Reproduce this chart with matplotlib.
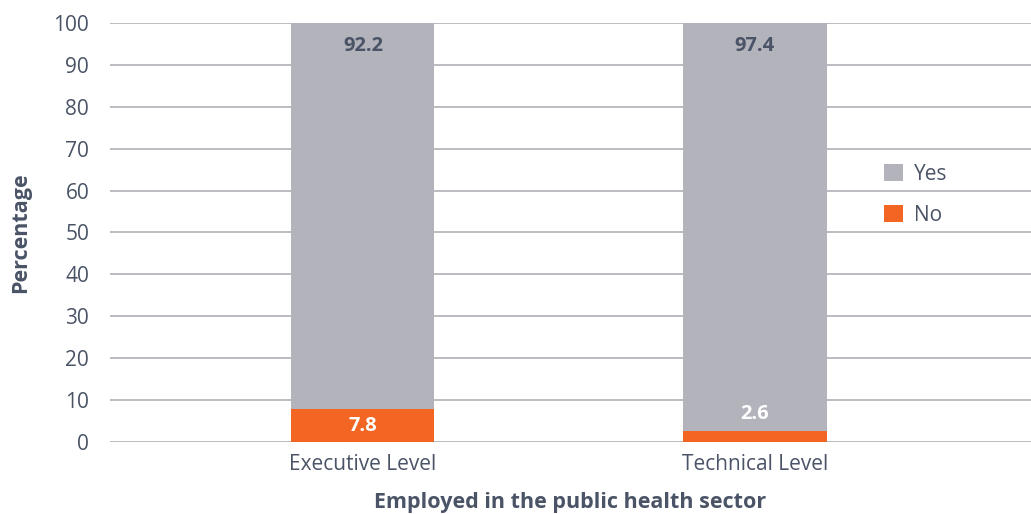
import matplotlib.pyplot as plt
import numpy as np

# data
categories = ['Executive Level', 'Technical Level']
yes_vals = [92.2, 97.4]
no_vals = [7.8, 2.6]

gray = '#b3b3bc'
orange = '#f26522'
text_col = '#4a5466'
grid_col = '#b5b5bd'

plt.rcParams['font.family'] = ['Open Sans', 'DejaVu Sans']

fig = plt.figure(figsize=(10.31, 5.14), dpi=100)
ax = fig.add_axes([110 / 1031, 1 - 442 / 514, 921 / 1031, 419 / 514])

x = np.arange(len(categories))
w = 0.365
ax.bar(x, no_vals, w, color=orange, label='No', zorder=3)
ax.bar(x, yes_vals, w, bottom=no_vals, color=gray, label='Yes', zorder=3)

# value labels
for i in range(len(categories)):
    ax.text(x[i], 100 - 5.6, f'{yes_vals[i]}', ha='center', va='center',
            fontsize=14.5, fontweight='bold', color=text_col, zorder=4)
    if no_vals[i] > 5:
        ny = no_vals[i] / 2
    else:
        ny = no_vals[i] + 4
    ax.text(x[i], ny, f'{no_vals[i]}', ha='center', va='center',
            fontsize=14.5, fontweight='bold', color='white', zorder=4)

ax.set_xlim(-0.645, 1.704)
ax.set_ylim(0, 100)
ax.set_yticks(np.arange(0, 101, 10))
ax.set_xticks(x)
ax.set_xticklabels(categories)
ax.yaxis.grid(True, color=grid_col, linewidth=1.3, zorder=0)
ax.set_axisbelow(True)
for s in ax.spines.values():
    s.set_visible(False)
ax.tick_params(length=0, labelsize=15, labelcolor=text_col)
ax.tick_params(axis='y', pad=15)
ax.tick_params(axis='x', pad=9)

ax.set_ylabel('Percentage', fontsize=15.5, fontweight='bold', color=text_col, labelpad=16)
ax.set_xlabel('Employed in the public health sector', fontsize=15.5,
              fontweight='bold', color=text_col, labelpad=12)

handles, labels = ax.get_legend_handles_labels()
leg = ax.legend(handles[::-1], labels[::-1], loc='center left',
                bbox_to_anchor=(0.82, 0.59), frameon=False, fontsize=15,
                handlelength=0.9, handleheight=0.9, labelspacing=0.95,
                handletextpad=0.55)
for t in leg.get_texts():
    t.set_color(text_col)

fig.savefig('out.png', dpi=100)
